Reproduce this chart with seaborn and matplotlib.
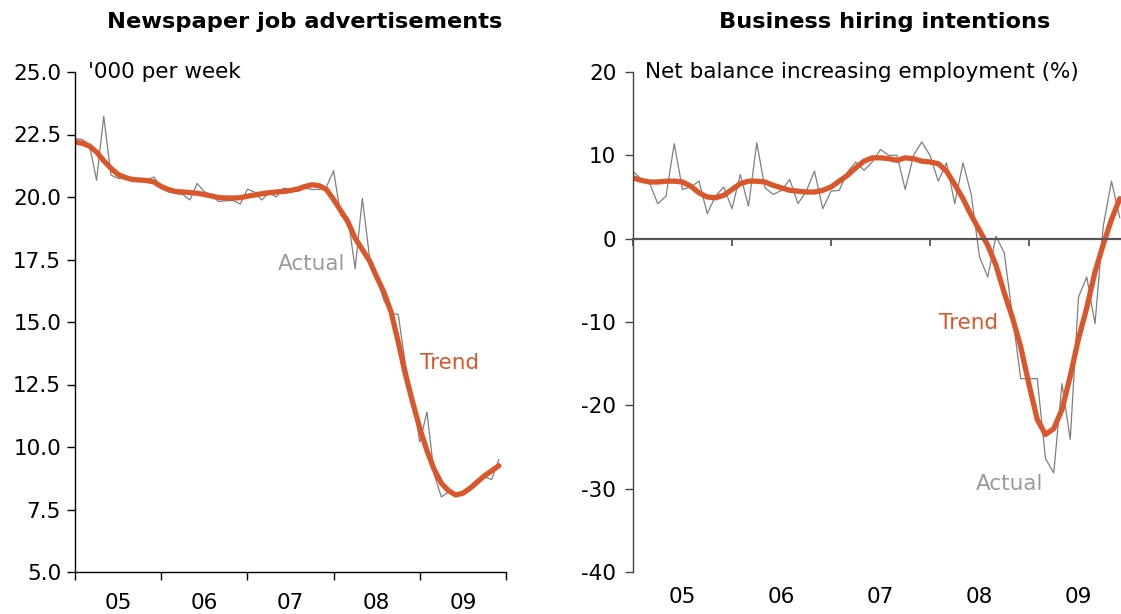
import numpy as np
import pandas as pd
import seaborn as sns
import matplotlib.pyplot as plt
from matplotlib.ticker import FixedLocator, FormatStrFormatter, NullFormatter

# Monthly series, Jan 2005 - Dec 2009
start_year = 2005

ads_actual = [22.34, 22.3, 22.1, 20.67, 23.23, 20.88, 20.74, 20.74, 20.74, 20.7,
              20.7, 20.8, 20.35, 20.2, 20.15, 20.1, 19.88, 20.54, 20.22, 20.05,
              19.82, 19.85, 19.86, 19.72, 20.31, 20.2, 19.88, 20.17, 20.0, 20.35,
              20.3, 20.22, 20.35, 20.3, 20.3, 20.4, 21.05, 19.25, 19.18, 17.13,
              19.94, 17.6, 16.8, 15.87, 15.35, 15.3, 13.3, 12.0, 10.2, 11.4,
              8.9, 8.0, 8.2, 8.05, 8.1, 8.3, 8.5, 8.8, 8.7, 9.5]

ads_trend = [22.2, 22.15, 22.04, 21.8, 21.45, 21.15, 20.9, 20.78, 20.7, 20.68,
             20.66, 20.6, 20.42, 20.3, 20.22, 20.2, 20.18, 20.15, 20.1, 20.04,
             19.98, 19.96, 19.96, 19.97, 20.03, 20.08, 20.13, 20.17, 20.2, 20.22,
             20.26, 20.32, 20.42, 20.49, 20.45, 20.3, 19.9, 19.45, 19.0, 18.35,
             17.9, 17.45, 16.8, 16.2, 15.4, 14.2, 12.9, 11.8, 10.75, 9.85,
             9.1, 8.55, 8.25, 8.08, 8.15, 8.35, 8.6, 8.85, 9.05, 9.25]

hiring_actual = [8.1, 7.1, 6.7, 4.2, 5.1, 11.4, 5.9, 6.2, 6.9, 3.0,
                 5.1, 6.2, 3.6, 7.7, 3.9, 11.5, 6.1, 5.3, 5.8, 7.1,
                 4.2, 5.7, 8.1, 3.6, 5.7, 5.8, 8.0, 9.2, 8.2, 9.2,
                 10.7, 10.0, 10.0, 5.9, 10.0, 11.6, 10.0, 6.9, 9.1, 4.2,
                 9.1, 5.3, -2.2, -4.6, 0.3, -1.7, -9.3, -16.8, -16.8, -16.8,
                 -26.4, -28.1, -17.4, -24.1, -7.0, -4.6, -10.2, 1.5, 6.9, 2.5]

hiring_trend = [7.3, 7.0, 6.8, 6.8, 6.9, 6.9, 6.8, 6.3, 5.5, 5.0,
                4.9, 5.2, 5.9, 6.6, 6.9, 6.9, 6.8, 6.4, 6.1, 5.8,
                5.7, 5.6, 5.6, 5.8, 6.2, 6.9, 7.6, 8.5, 9.3, 9.7,
                9.7, 9.6, 9.4, 9.7, 9.6, 9.3, 9.2, 9.0, 8.1, 6.5,
                4.8, 2.8, 1.0, -0.8, -3.2, -6.5, -9.5, -13.0, -17.5, -21.7,
                -23.5, -22.8, -20.5, -16.5, -12.0, -8.3, -4.0, -0.7, 2.3, 4.8]

year_labels = ["05", "06", "07", "08", "09"]
ads_yticks = [5.0, 7.5, 10.0, 12.5, 15.0, 17.5, 20.0, 22.5, 25.0]
hiring_yticks = [-40, -30, -20, -10, 0, 10, 20]

ORANGE = "#D9572B"
GREY = "#7F7F7F"
LABEL_GREY = "#9A9A9A"
FS = 15.5

months = np.arange(len(ads_actual))
t = start_year + months / 12.0
ads = pd.DataFrame({"t": t, "actual": ads_actual, "trend": ads_trend})
hiring = pd.DataFrame({"t": t, "actual": hiring_actual, "trend": hiring_trend})

sns.set_theme(style="white")
plt.rcParams["font.family"] = ["DejaVu Sans"]
plt.rcParams["axes.linewidth"] = 1.0
plt.rcParams["axes.unicode_minus"] = False
plt.rcParams["text.color"] = "black"
plt.rcParams["xtick.color"] = "black"
plt.rcParams["ytick.color"] = "black"
plt.rcParams["xtick.labelcolor"] = "black"
plt.rcParams["ytick.labelcolor"] = "black"

fig = plt.figure(figsize=(11.21, 6.14), dpi=100)
ax1 = fig.add_axes([75 / 1121, 1 - 572 / 614, 431 / 1121, 500 / 614])
ax2 = fig.add_axes([633 / 1121, 1 - 572 / 614, 488 / 1121, 500 / 614])

year_bounds = [start_year + k for k in range(6)]
year_mids = [start_year + k + 0.5 for k in range(5)]

# ---- Newspaper job advertisements ----
sns.lineplot(data=ads, x="t", y="actual", ax=ax1, color=GREY, lw=0.9,
             estimator=None, sort=False)
sns.lineplot(data=ads, x="t", y="trend", ax=ax1, color=ORANGE, lw=3.8,
             estimator=None, sort=False, solid_capstyle="round")
ax1.set_xlim(2005, 2010)
ax1.set_ylim(5, 25)
ax1.set_xlabel("")
ax1.set_ylabel("")
for s in ["top", "right"]:
    ax1.spines[s].set_visible(False)
for s in ["left", "bottom"]:
    ax1.spines[s].set_color("black")
ax1.xaxis.set_major_locator(FixedLocator(year_bounds))
ax1.xaxis.set_major_formatter(NullFormatter())
ax1.xaxis.set_minor_locator(FixedLocator(year_mids))
ax1.set_xticklabels(year_labels, minor=True)
ax1.tick_params(axis="x", which="major", direction="out", length=6, width=1,
                color="black", bottom=True)
ax1.tick_params(axis="x", which="minor", length=0, pad=15, labelsize=FS,
                bottom=True)
ax1.set_yticks(ads_yticks)
ax1.yaxis.set_major_formatter(FormatStrFormatter("%.1f"))
ax1.tick_params(axis="y", direction="out", length=6, width=1, color="black",
                left=True, labelsize=FS, pad=4)
ax1.text(0.03, 1.0, "'000 per week", transform=ax1.transAxes, fontsize=FS,
         ha="left", va="center")
ax1.text(2007.74, 17.34, "Actual", color=LABEL_GREY, fontsize=FS,
         ha="center", va="center")
ax1.text(2009.35, 13.37, "Trend", color=ORANGE, fontsize=FS,
         ha="center", va="center")

# ---- Business hiring intentions ----
sns.lineplot(data=hiring, x="t", y="actual", ax=ax2, color=GREY, lw=0.9,
             estimator=None, sort=False)
sns.lineplot(data=hiring, x="t", y="trend", ax=ax2, color=ORANGE, lw=3.8,
             estimator=None, sort=False, solid_capstyle="round")
ax2.set_xlim(2005, 2005 + 488 / 99)
ax2.set_ylim(-40, 20)
ax2.set_xlabel("")
ax2.set_ylabel("")
for s in ["top", "right"]:
    ax2.spines[s].set_visible(False)
ax2.spines["left"].set_color("#444444")
ax2.spines["bottom"].set_position(("data", 0))
ax2.spines["bottom"].set_color("#555555")
ax2.spines["bottom"].set_linewidth(1.6)
ax2.xaxis.set_major_locator(FixedLocator(year_bounds[:-1]))
ax2.xaxis.set_major_formatter(NullFormatter())
ax2.tick_params(axis="x", which="major", direction="out", length=5, width=1.2,
                color="#444444", bottom=True)
for xm, lab in zip(year_mids, year_labels):
    ax2.text(xm, -0.05, lab, transform=ax2.get_xaxis_transform(), fontsize=FS,
             ha="center", va="center")
ax2.set_yticks(hiring_yticks)
ax2.tick_params(axis="y", direction="out", length=6, width=1, color="#444444",
                left=True, labelsize=FS, pad=6)
ax2.text(0.025, 1.0, "Net balance increasing employment (%)",
         transform=ax2.transAxes, fontsize=FS, ha="left", va="center")
ax2.text(2008.39, -10.1, "Trend", color=ORANGE, fontsize=FS,
         ha="center", va="center")
ax2.text(2008.80, -29.5, "Actual", color=LABEL_GREY, fontsize=FS,
         ha="center", va="center")

fig.text(305 / 1121, 1 - 22 / 614, "Newspaper job advertisements",
         fontsize=16.2, fontweight="bold", ha="center", va="center")
fig.text(885 / 1121, 1 - 22 / 614, "Business hiring intentions",
         fontsize=16.2, fontweight="bold", ha="center", va="center")

fig.savefig("out.png", dpi=100)
